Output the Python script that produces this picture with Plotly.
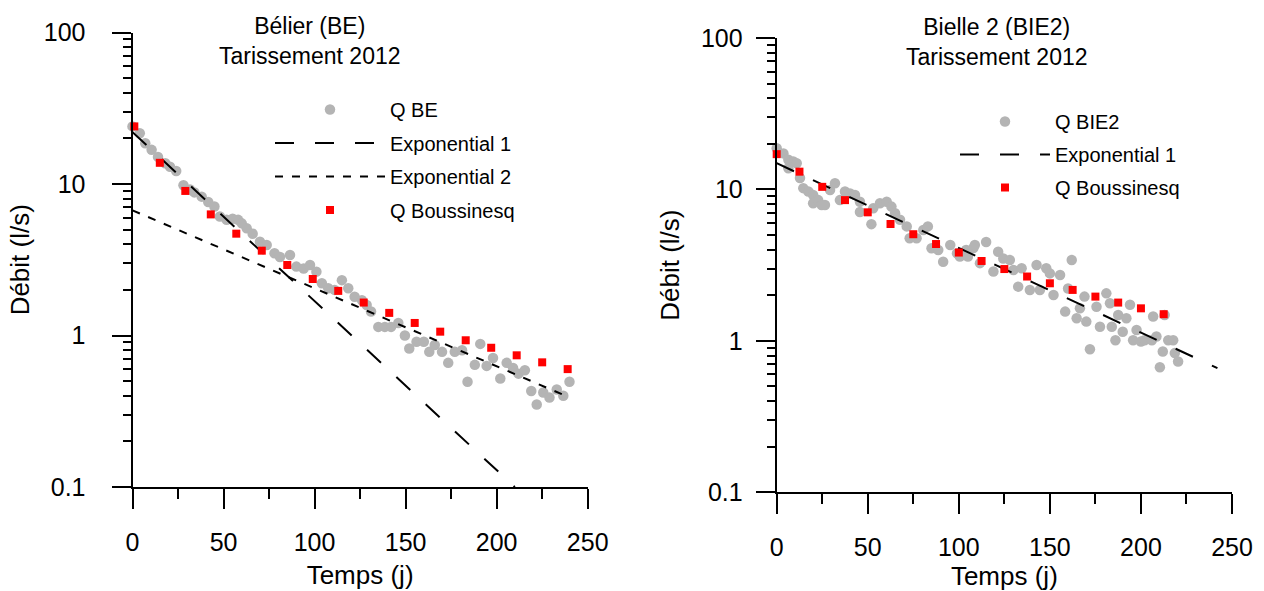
import plotly.graph_objects as go

# ---------------- data : Bélier (BE) ----------------
t_be = [0, 4, 7, 10.5, 14, 18, 20.6, 24, 28, 31.6, 34, 38, 41.6, 45, 48, 51.7, 55, 58, 60, 62.7,
        66, 70, 73.7, 78, 81, 86.5, 90, 94, 97.5, 101, 104, 107.5, 111, 115, 118.5, 122, 126, 128.6,
        131, 135, 138.6, 142, 146, 149.6, 152, 156, 160, 163, 166, 170, 173.4, 177, 181, 184, 188,
        191, 194.5, 198, 202, 205.5, 209, 212, 215.5, 219, 222, 225.6, 229, 233, 236.6, 240]
q_be = [24, 21.6, 18.6, 16.8, 15.1, 13.7, 13.0, 12.2, 9.8, 9.2, 8.8, 8.25, 7.6, 7.1, 6.1, 5.8, 5.9,
        5.8, 5.5, 5.1, 4.7, 4.16, 3.96, 3.49, 3.3, 3.4, 2.85, 2.77, 2.92, 2.64, 2.21, 2.05, 2.0, 2.32,
        2.05, 1.80, 1.71, 1.59, 1.44, 1.14, 1.14, 1.14, 1.21, 1.0, 0.82, 0.91, 0.91, 0.78, 0.865, 0.78,
        0.66, 0.78, 0.80, 0.495, 0.64, 0.88, 0.63, 0.71, 0.52, 0.66, 0.61, 0.56, 0.59, 0.43, 0.35,
        0.42, 0.39, 0.44, 0.40, 0.495]
t_exp1_be = [0, 210]
q_exp1_be = [22, 0.1]
t_exp2_be = [0, 240]
q_exp2_be = [6.7, 0.39]
t_bq_be = [1, 15, 29, 43, 57, 71, 85, 99, 113, 127, 141, 155, 169, 183, 197, 211, 225, 239]
q_bq_be = [24, 13.8, 9.0, 6.3, 4.7, 3.63, 2.92, 2.36, 1.97, 1.65, 1.41, 1.21, 1.06, 0.93, 0.83,
           0.74, 0.665, 0.60]

# ---------------- data : Bielle 2 (BIE2) ----------------
t_bie2 = [0, 3.7, 6.4, 6.4, 9.1, 11, 12.8, 14.6, 17.4, 20, 20, 22.8, 24.7, 26.5, 29.3, 32, 34.7,
          37.5, 40.3, 43, 45.7, 45.7, 52, 53, 56.7, 60.4, 63, 65, 67.7, 71.4, 73, 76.8, 80.5, 83,
          85, 88.7, 91.4, 95.3, 99, 100.6, 104, 105, 108, 108.8, 111.6, 115, 119, 121.6, 124.4,
          128, 130, 132.6, 134.5, 139, 142.7, 144.5, 148, 150, 152, 155.6, 158.4, 160, 162, 164.7,
          166.5, 169, 170, 172, 175.6, 177.5, 181, 183, 184, 186, 187.5, 190, 192, 194, 195.7,
          197.6, 200, 202, 206, 206.7, 208.5, 210.4, 212, 213, 215, 217.7, 218.6, 220.4]
q_bie2 = [18.7, 17.3, 15.7, 13.8, 15.3, 14.9, 11.9, 10.2, 9.7, 9.2, 8.1, 8.5, 7.9, 7.9, 9.9, 11.0,
          8.5, 9.7, 9.4, 9.2, 8.3, 7.1, 5.9, 7.5, 8.1, 8.3, 7.7, 6.96, 6.3, 5.7, 4.76, 4.76, 5.4,
          5.7, 4.09, 3.98, 3.33, 4.3, 3.79, 3.6, 3.98, 3.6, 4.1, 4.3, 3.26, 4.5, 2.87, 3.88, 3.5,
          3.42, 2.94, 2.28, 3.02, 2.17, 3.17, 2.17, 3.02, 2.79, 2.01, 2.72, 1.56, 2.22, 3.42, 1.41,
          1.64, 1.96, 1.34, 0.88, 1.68, 1.24, 2.06, 1.77, 1.24, 1.01, 1.48, 1.15, 1.41, 1.73, 1.01,
          1.18, 0.99, 1.01, 1.01, 1.45, 1.07, 0.67, 0.85, 1.48, 1.01, 1.01, 0.83, 0.73]
t_exp1_bie2 = [0, 242]
q_exp1_bie2 = [14.9, 0.66]
t_bq_bie2 = [0, 12.5, 25, 37.5, 50, 62.5, 75, 87.5, 100, 112.5, 125, 137.5, 150, 162.5, 175,
             187.5, 200, 212.5]
q_bq_bie2 = [17.1, 13.1, 10.4, 8.5, 7.06, 5.91, 5.06, 4.36, 3.83, 3.37, 2.98, 2.66, 2.40, 2.17,
             1.96, 1.79, 1.64, 1.50]

x_ticks = [0, 50, 100, 150, 200, 250]
y_ticks = [0.1, 1, 10, 100]
y_ticktext = ["0.1", "1", "10", "100"]

GRAY = "#b4b4b4"
RED = "#ff0000"
FONT = "Arial, Liberation Sans, sans-serif"
W, H = 1264, 591
LONG_DASH = "19px,21px"
SHORT_DASH = "8px,9px"

fig = go.Figure()

# left panel
fig.add_trace(go.Scatter(x=t_be, y=q_be, mode="markers", name="Q BE", cliponaxis=False,
                         marker=dict(color=GRAY, size=10.5), xaxis="x", yaxis="y",
                         legend="legend", legendgroup="a1"))
fig.add_trace(go.Scatter(x=t_exp1_be, y=q_exp1_be, mode="lines", name="Exponential 1",
                         line=dict(color="black", width=2, dash=LONG_DASH),
                         xaxis="x", yaxis="y", legend="legend", legendgroup="a2"))
fig.add_trace(go.Scatter(x=t_exp2_be, y=q_exp2_be, mode="lines", name="Exponential 2",
                         line=dict(color="black", width=2, dash=SHORT_DASH),
                         xaxis="x", yaxis="y", legend="legend", legendgroup="a3"))
fig.add_trace(go.Scatter(x=t_bq_be, y=q_bq_be, mode="markers", name="Q Boussinesq", cliponaxis=False,
                         marker=dict(color=RED, size=8, symbol="square"),
                         xaxis="x", yaxis="y", legend="legend", legendgroup="a4"))

# right panel
fig.add_trace(go.Scatter(x=t_bie2, y=q_bie2, mode="markers", name="Q BIE2", cliponaxis=False,
                         marker=dict(color=GRAY, size=10.5), xaxis="x2", yaxis="y2",
                         legend="legend2", legendgroup="b1"))
fig.add_trace(go.Scatter(x=t_exp1_bie2, y=q_exp1_bie2, mode="lines", name="Exponential 1",
                         line=dict(color="black", width=2, dash=LONG_DASH),
                         xaxis="x2", yaxis="y2", legend="legend2", legendgroup="b2"))
fig.add_trace(go.Scatter(x=t_bq_bie2, y=q_bq_bie2, mode="markers", name="Q Boussinesq", cliponaxis=False,
                         marker=dict(color=RED, size=8, symbol="square"),
                         xaxis="x2", yaxis="y2", legend="legend2", legendgroup="b3"))

minor_y = [k * 10 ** e for e in (-1, 0, 1) for k in range(2, 10)]


def xaxis_cfg(domain, anchor):
    return dict(domain=domain, anchor=anchor, range=[0, 250], tickvals=x_ticks,
                showline=True, linecolor="black", linewidth=2, showgrid=False, zeroline=False,
                ticks="outside", ticklen=20, tickwidth=2, tickcolor="black",
                ticklabelstandoff=12,
                minor=dict(ticks="outside", ticklen=10, tickwidth=2, tickcolor="black",
                           dtick=25, tick0=0, showgrid=False),
                tickfont=dict(size=25, color="black", family=FONT),
                title=dict(text="Temps (j)", font=dict(size=26, color="black", family=FONT), standoff=11),
                automargin=False)


def yaxis_cfg(domain, anchor, standoff_lbl, standoff_title):
    return dict(domain=domain, anchor=anchor, type="log", range=[-1, 2],
                tickmode="array", tickvals=y_ticks, ticktext=y_ticktext,
                showline=True, linecolor="black", linewidth=2, showgrid=False, zeroline=False,
                ticks="outside", ticklen=19, tickwidth=2, tickcolor="black",
                ticklabelstandoff=standoff_lbl,
                minor=dict(ticks="outside", ticklen=8, tickwidth=2, tickcolor="black",
                           tickmode="array", tickvals=minor_y, showgrid=False),
                tickfont=dict(size=25, color="black", family=FONT),
                title=dict(text="Débit (l/s)", font=dict(size=26, color="black", family=FONT),
                           standoff=standoff_title),
                automargin=False)


legend_font = dict(size=20, family=FONT, color="black")

fig.update_layout(
    width=W, height=H, autosize=False,
    margin=dict(l=0, r=0, t=0, b=0),
    paper_bgcolor="white", plot_bgcolor="white",
    font=dict(family=FONT, color="black"),
    xaxis=xaxis_cfg([132.5 / W, 587.7 / W], "y"),
    yaxis=yaxis_cfg([(H - 487) / H, (H - 32.5) / H], "x", 21, 7),
    xaxis2=xaxis_cfg([776.7 / W, 1232 / W], "y2"),
    yaxis2=yaxis_cfg([(H - 492.3) / H, (H - 38) / H], "x2", 8, 14),
    legend=dict(x=270 / W, y=(H - 90) / H, xanchor="left", yanchor="top",
                bgcolor="rgba(0,0,0,0)", itemwidth=110, traceorder="grouped",
                tracegroupgap=4.5, font=legend_font),
    legend2=dict(x=955 / W, y=(H - 102) / H, xanchor="left", yanchor="top",
                 bgcolor="rgba(0,0,0,0)", itemwidth=90, traceorder="grouped",
                 tracegroupgap=4, font=legend_font),
    annotations=[
        dict(text="Bélier (BE)<br>Tarissement 2012", x=310 / W, y=(H - 41) / H,
             xref="paper", yref="paper", showarrow=False, xanchor="center", yanchor="middle",
             font=dict(size=23, family=FONT, color="black")),
        dict(text="Bielle 2 (BIE2)<br>Tarissement 2012", x=997 / W, y=(H - 42) / H,
             xref="paper", yref="paper", showarrow=False, xanchor="center", yanchor="middle",
             font=dict(size=23, family=FONT, color="black")),
    ],
)

fig.write_html("out.html", config={"displayModeBar": False},
               post_script="document.body.style.margin='0';")
